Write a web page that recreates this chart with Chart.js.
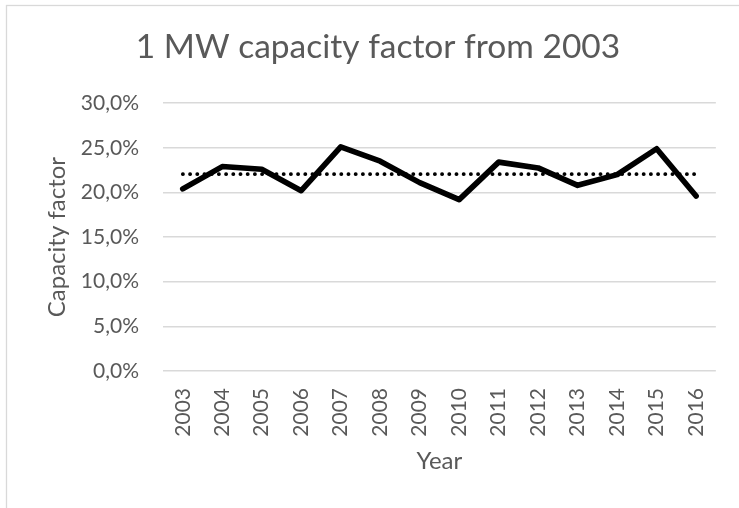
<!DOCTYPE html>
<html>
<head>
<meta charset="utf-8">
<script src="https://cdn.jsdelivr.net/npm/chart.js@4.4.1/dist/chart.umd.min.js"></script>
<style>
  html, body { margin: 0; padding: 0; background: #ffffff; }
  canvas { display: block; }
</style>
</head>
<body>
<canvas id="c" width="739" height="508"></canvas>
<script>
// ---- data ----
const years = ['2003','2004','2005','2006','2007','2008','2009','2010','2011','2012','2013','2014','2015','2016'];
const capacityFactor = [20.4, 22.9, 22.6, 20.2, 25.1, 23.5, 21.1, 19.2, 23.4, 22.75, 20.8, 22.0, 24.9, 19.6];
const averageLine = [22.05, 22.05, 22.05, 22.05, 22.05, 22.05, 22.05, 22.05, 22.05, 22.05, 22.05, 22.05, 22.05, 22.05];
const yTickMin = 0;
const yTickMax = 30;
const yTickStep = 5;
const chartTitle = '1 MW capacity factor from 2003';
const yTitle = 'Capacity factor';
const xTitle = 'Year';

const FONT = 'Lato';
const GREY = '#595959';
const GRID = '#d9d9d9';

const frame = {
  id: 'frame',
  beforeDraw(chart) {
    const ctx = chart.ctx;
    ctx.save();
    ctx.fillStyle = '#ffffff';
    ctx.fillRect(0, 0, chart.width, chart.height);
    ctx.strokeStyle = GRID;
    ctx.lineWidth = 1.3;
    ctx.strokeRect(6.5, 5.5, 2000, 2000);
    ctx.restore();
  }
};

new Chart(document.getElementById('c'), {
  type: 'line',
  data: {
    labels: years,
    datasets: [
      {
        data: capacityFactor,
        borderColor: '#000000',
        backgroundColor: '#000000',
        borderWidth: 5.6,
        borderJoinStyle: 'round',
        borderCapStyle: 'round',
        pointRadius: 0,
        tension: 0,
        fill: false
      },
      {
        data: averageLine,
        borderColor: '#000000',
        backgroundColor: '#000000',
        borderWidth: 3.6,
        borderDash: [0.3, 6.9],
        borderCapStyle: 'round',
        pointRadius: 0,
        tension: 0,
        fill: false
      }
    ]
  },
  options: {
    responsive: false,
    animation: false,
    devicePixelRatio: 1,
    layout: { padding: { left: 36, right: 19, top: 0, bottom: 0 } },
    plugins: {
      legend: { display: false },
      tooltip: { enabled: false },
      title: {
        display: true,
        text: chartTitle,
        color: GREY,
        font: { family: FONT, size: 33.5, weight: 'normal' },
        padding: { top: 27, bottom: 36 }
      }
    },
    scales: {
      x: {
        offset: true,
        grid: { display: false, drawTicks: false },
        border: { display: false },
        ticks: {
          color: GREY,
          font: { family: FONT, size: 21 },
          minRotation: 90,
          maxRotation: 90,
          padding: 17,
          autoSkip: false
        },
        title: {
          display: true,
          text: xTitle,
          color: GREY,
          font: { family: FONT, size: 24 },
          padding: { top: 0, bottom: 32 }
        },
        afterFit(scale) { scale.height = 137; }
      },
      y: {
        min: yTickMin,
        max: yTickMax,
        grid: { color: GRID, lineWidth: 1.5, drawTicks: false },
        border: { display: false },
        ticks: {
          stepSize: yTickStep,
          color: GREY,
          font: { family: FONT, size: 21 },
          padding: 24,
          callback: (v) => v.toFixed(1).replace('.', ',') + '%'
        },
        title: {
          display: true,
          text: yTitle,
          color: GREY,
          font: { family: FONT, size: 24 },
          padding: { top: 7, bottom: 4 }
        },
        afterFit(scale) { scale.width = 127; }
      }
    }
  },
  plugins: [frame]
});
</script>
</body>
</html>
